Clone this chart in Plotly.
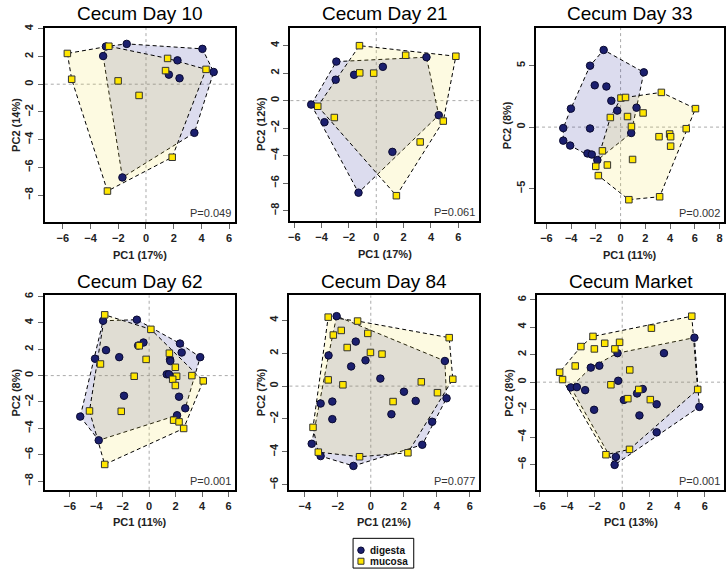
import plotly.graph_objects as go

W, H = 728, 576

# ---------------- data ----------------
titles = ["Cecum Day 10", "Cecum Day 21", "Cecum Day 33",
          "Cecum Day 62", "Cecum Day 84", "Cecum Market"]
pc1_labels = ["PC1 (17%)", "PC1 (17%)", "PC1 (11%)", "PC1 (11%)", "PC1 (21%)", "PC1 (13%)"]
pc2_labels = ["PC2 (14%)", "PC2 (12%)", "PC2 (8%)", "PC2 (8%)", "PC2 (7%)", "PC2 (8%)"]
p_values = ["P=0.049", "P=0.061", "P=0.002", "P=0.001", "P=0.077", "P=0.001"]
group_names = ["digesta", "mucosa"]

d10_dig_x = [-1.39, -2.89, -3.09, 4.07, 2.27, 4.88, 1.65, 2.42, 3.49, -1.70]
d10_dig_y = [2.91, 2.72, 2.03, 2.55, 1.72, 0.88, 0.69, 0.43, -3.51, -6.73]
d10_muc_x = [-5.67, -2.68, -5.36, -2.01, -0.50, 1.56, 1.41, 4.33, 1.89, -2.78]
d10_muc_y = [2.22, 2.74, 0.36, 0.24, -0.81, 1.86, 0.98, 1.07, -5.27, -7.71]

d21_dig_x = [-2.92, -2.97, -1.62, 0.48, 3.67, -4.76, -3.79, 4.57, 1.18, -1.30]
d21_dig_y = [2.84, 1.52, 1.88, 2.46, 3.16, -0.29, -1.57, -1.06, -3.73, -6.70]
d21_muc_x = [-1.23, 2.15, 5.82, -1.21, -0.19, -4.28, -3.07, 4.90, 3.21, 1.47]
d21_muc_y = [4.00, 3.30, 3.23, 2.02, 2.00, -0.41, -1.23, -1.49, -3.01, -6.92]

d33_dig_x = [-1.37, -2.47, 1.88, -2.09, -1.15, -0.75, -4.02, -0.27, 1.29, -4.64,
             -2.47, 0.86, -4.64, -4.08, -2.68, -2.33, -1.88]
d33_dig_y = [6.27, 4.99, 4.45, 3.40, 3.30, 2.14, 1.50, 1.34, 1.58, -0.08,
             -0.11, -0.48, -1.10, -1.50, -2.14, -2.23, -2.68]
d33_muc_x = [0.03, 0.40, 3.30, 6.06, -0.83, 0.56, 1.82, 0.88, 5.31, 3.11,
             3.97, 4.05, 4.05, -1.47, 0.97, -1.07, -2.01, -1.80, 0.67, 3.16]
d33_muc_y = [2.36, 2.41, 2.82, 1.50, 0.78, 0.86, 1.15, 0.05, -0.13, -0.78,
             -0.56, -0.78, -1.55, -1.93, -2.63, -3.08, -3.19, -3.94, -5.90, -5.66]

d62_dig_x = [-3.48, -0.93, -3.26, -0.43, -0.83, -2.26, -4.09, 2.33, 2.46, 3.86,
             1.58, 1.60, 1.33, 1.50, -1.90, 2.26, 2.73, 2.11, -5.21, -3.81]
d62_dig_y = [4.16, 4.24, 1.93, 2.51, 2.28, 1.40, 1.28, 2.43, 1.75, 1.40,
             1.23, 1.10, 0.10, 0.10, -1.53, -1.60, -2.48, -3.01, -3.11, -4.91]
d62_muc_x = [-3.36, 0.13, -0.75, 1.53, -0.23, -3.68, 1.98, -1.13, 2.08, 1.78,
             3.23, 4.09, 1.98, -4.51, -2.11, 1.85, 2.26, 2.61, -3.36]
d62_muc_y = [4.61, 3.51, 2.26, 1.70, 1.23, 0.88, 0.63, -0.05, -0.05, -0.28,
             0.00, -0.40, -0.75, -2.68, -2.71, -3.38, -3.51, -4.01, -6.74]

d84_dig_x = [-2.07, -0.91, -2.56, -1.19, -0.32, 0.58, 2.01, 2.72, 4.59, 4.49,
             -3.04, -2.33, -2.33, 1.25, 3.72, 3.12, -3.58, -3.04, -1.05]
d84_dig_y = [4.26, 2.71, 1.87, 1.20, 1.57, 0.46, -0.34, -0.90, -0.74, 1.53,
             -1.06, -0.94, -2.01, -1.71, -2.17, -3.57, -3.51, -4.26, -4.86]
d84_muc_x = [-2.58, -0.80, -2.27, -1.79, -0.18, -1.43, -0.02, 0.68, 4.75, -2.58,
             -1.69, 4.97, 3.06, 4.04, 1.35, -3.50, -3.18, -0.68, 2.25]
d84_muc_y = [4.20, 3.96, 3.11, 3.39, 3.21, 2.35, 2.05, 1.95, 2.95, 0.38,
             0.08, 0.42, 0.26, -0.40, -0.94, -2.51, -4.02, -4.30, -4.06]

mkt_dig_x = [5.24, 3.03, -0.34, -2.28, -1.66, -0.29, -3.73, -3.29, -2.69, 1.08,
             1.49, 0.12, -2.04, 2.50, 1.25, 5.60, 2.50, -0.46, -0.55]
mkt_dig_y = [3.24, 2.11, 2.11, 1.06, 1.20, 0.10, -0.38, -0.36, -0.58, -0.82,
             -0.50, -1.29, -2.01, -1.61, -2.42, -1.80, -3.65, -5.44, -6.02]
mkt_muc_x = [5.05, 2.12, -2.12, -1.27, -2.02, -3.00, -0.19, -0.53, -3.41, 0.55,
             -4.54, -4.33, -0.82, 1.20, 0.41, 2.04, 5.48, -1.18, 0.53]
mkt_muc_y = [4.80, 3.93, 3.33, 2.83, 2.42, 2.59, 2.90, 2.42, 1.18, 0.89,
             0.72, 0.19, -0.19, -0.53, -1.20, -1.27, -0.53, -5.28, -4.89]

panels_data = [
    (d10_dig_x, d10_dig_y, d10_muc_x, d10_muc_y),
    (d21_dig_x, d21_dig_y, d21_muc_x, d21_muc_y),
    (d33_dig_x, d33_dig_y, d33_muc_x, d33_muc_y),
    (d62_dig_x, d62_dig_y, d62_muc_x, d62_muc_y),
    (d84_dig_x, d84_dig_y, d84_muc_x, d84_muc_y),
    (mkt_dig_x, mkt_dig_y, mkt_muc_x, mkt_muc_y),
]

x_ticks = [[-6, -4, -2, 0, 2, 4, 6], [-6, -4, -2, 0, 2, 4, 6], [-6, -4, -2, 0, 2, 4, 6, 8],
           [-6, -4, -2, 0, 2, 4, 6], [-4, -2, 0, 2, 4, 6], [-6, -4, -2, 0, 2, 4, 6]]
y_ticks = [[-8, -6, -4, -2, 0, 2, 4], [-8, -6, -4, -2, 0, 2, 4], [-5, 0, 5],
           [-8, -6, -4, -2, 0, 2, 4, 6], [-6, -4, -2, 0, 2, 4], [-6, -4, -2, 0, 2, 4, 6]]

# ---------------- layout geometry (pixels) ----------------
boxes = [(41, 232, 23, 219), (288, 478, 23, 218), (535, 724, 23, 219),
         (41, 232, 293, 489), (287, 478, 293, 489), (536, 724, 293, 489)]
x_ranges = [(-7.3, 6.4), (-6.28, 7.54), (-6.84, 8.37), (-7.89, 6.47), (-4.93, 6.58), (-6.18, 7.39)]
y_ranges = [(-9.95, 4.07), (-8.77, 5.3), (-7.72, 8.07), (-8.66, 6.08), (-6.31, 5.52), (-7.83, 6.31)]

FONT = "Arial, Liberation Sans, sans-serif"
DIG_FILL = "rgba(40,40,150,0.16)"
MUC_FILL = "rgba(245,225,80,0.17)"
DIG_COLOR = "#1b1f6e"
MUC_COLOR = "#ffe600"


def px(x):
    return x / W


def py(y):
    return 1 - y / H


def hull(xs, ys):
    pts = sorted(set(zip(xs, ys)))

    def cross(o, a, b):
        return (a[0] - o[0]) * (b[1] - o[1]) - (a[1] - o[1]) * (b[0] - o[0])

    lower = []
    for p in pts:
        while len(lower) >= 2 and cross(lower[-2], lower[-1], p) <= 0:
            lower.pop()
        lower.append(p)
    upper = []
    for p in reversed(pts):
        while len(upper) >= 2 and cross(upper[-2], upper[-1], p) <= 0:
            upper.pop()
        upper.append(p)
    h = lower[:-1] + upper[:-1]
    h.append(h[0])
    return [p[0] for p in h], [p[1] for p in h]


fig = go.Figure()
annotations = []
shapes = []

for i in range(6):
    n = "" if i == 0 else str(i + 1)
    xa, ya = "x" + n, "y" + n
    dx, dy, mx, my = panels_data[i]
    hx, hy = hull(dx, dy)
    fig.add_trace(go.Scatter(x=hx, y=hy, mode="lines", fill="toself", fillcolor=DIG_FILL,
                             line=dict(color="black", width=1, dash="4px,3px"),
                             xaxis=xa, yaxis=ya, showlegend=False, hoverinfo="skip"))
    hx, hy = hull(mx, my)
    fig.add_trace(go.Scatter(x=hx, y=hy, mode="lines", fill="toself", fillcolor=MUC_FILL,
                             line=dict(color="black", width=1, dash="4px,3px"),
                             xaxis=xa, yaxis=ya, showlegend=False, hoverinfo="skip"))
    fig.add_trace(go.Scatter(x=dx, y=dy, mode="markers", name=group_names[0],
                             marker=dict(symbol="circle", size=7.5, color=DIG_COLOR,
                                         line=dict(color="#0a0a30", width=1)),
                             xaxis=xa, yaxis=ya, showlegend=False))
    fig.add_trace(go.Scatter(x=mx, y=my, mode="markers", name=group_names[1],
                             marker=dict(symbol="square", size=6.5, color=MUC_COLOR,
                                         line=dict(color="#333333", width=1)),
                             xaxis=xa, yaxis=ya, showlegend=False))

    x0, x1, y0, y1 = boxes[i]
    common = dict(showline=True, linecolor="black", linewidth=2, mirror=True,
                  ticks="outside", ticklen=5, tickwidth=1, tickcolor="#666",
                  showgrid=False, zeroline=False,
                  tickfont=dict(family=FONT, size=11, color="#222", weight="bold"))
    fig.layout["xaxis" + n] = dict(domain=[px(x0), px(x1)], range=list(x_ranges[i]),
                                   tickvals=x_ticks[i], anchor=ya, **common)
    fig.layout["yaxis" + n] = dict(domain=[py(y1), py(y0)], range=list(y_ranges[i]),
                                   tickvals=y_ticks[i], anchor=xa, tickangle=-90, **common)

    # zero reference lines
    shapes.append(dict(type="line", xref=xa, yref=ya + " domain", x0=0, x1=0, y0=0, y1=1,
                       line=dict(color="#aaaaaa", width=1, dash="dot"), layer="below"))
    shapes.append(dict(type="line", xref=xa + " domain", yref=ya, x0=0, x1=1, y0=0, y1=0,
                       line=dict(color="#aaaaaa", width=1, dash="dot"), layer="below"))

    cx = (x0 + x1) / 2
    cy = (y0 + y1) / 2
    annotations.append(dict(text=titles[i], x=px(cx), y=py(y0 - 14), xref="paper", yref="paper",
                            xanchor="center", yanchor="middle", showarrow=False,
                            font=dict(family=FONT, size=19, color="black")))
    annotations.append(dict(text=pc1_labels[i], x=px(cx), y=py(y1 + 33), xref="paper", yref="paper",
                            xanchor="center", yanchor="middle", showarrow=False,
                            font=dict(family=FONT, size=11, color="#222", weight="bold")))
    annotations.append(dict(text=pc2_labels[i], x=px(x0 - 29), y=py(cy), xref="paper", yref="paper",
                            xanchor="center", yanchor="middle", showarrow=False, textangle=-90,
                            font=dict(family=FONT, size=11, color="#222", weight="bold")))
    annotations.append(dict(text=p_values[i], x=px(x1 - 2), y=py(y1 - 9), xref="paper", yref="paper",
                            xanchor="right", yanchor="middle", showarrow=False,
                            font=dict(family=FONT, size=11, color="#333")))

# ---------------- legend ----------------
LX0, LX1, LY0, LY1 = 351, 412, 538, 568
shapes.append(dict(type="rect", xref="paper", yref="paper", x0=px(LX0), x1=px(LX1),
                   y0=py(LY1), y1=py(LY0), line=dict(color="black", width=1)))
fig.layout["xaxis7"] = dict(domain=[px(LX0), px(LX1)], range=[0, 1], visible=False, anchor="y7")
fig.layout["yaxis7"] = dict(domain=[py(LY1), py(LY0)], range=[0, 1], visible=False, anchor="x7")
fig.add_trace(go.Scatter(x=[0.13], y=[0.6], mode="markers", xaxis="x7", yaxis="y7",
                         marker=dict(symbol="circle", size=6.5, color=DIG_COLOR,
                                     line=dict(color="#0a0a30", width=1)),
                         showlegend=False, hoverinfo="skip"))
fig.add_trace(go.Scatter(x=[0.13], y=[0.23], mode="markers", xaxis="x7", yaxis="y7",
                         marker=dict(symbol="square", size=6, color=MUC_COLOR,
                                     line=dict(color="#333333", width=1)),
                         showlegend=False, hoverinfo="skip"))
for name, yy in zip(group_names, [550, 561]):
    annotations.append(dict(text=name, x=px(366), y=py(yy), xref="paper", yref="paper",
                            xanchor="left", yanchor="middle", showarrow=False,
                            font=dict(family=FONT, size=10, color="#111", weight="bold")))

fig.update_layout(width=W, height=H, margin=dict(l=0, r=0, t=0, b=0),
                  paper_bgcolor="white", plot_bgcolor="white",
                  annotations=annotations, shapes=shapes, showlegend=False)

fig.write_html("out.html", config={"displayModeBar": False},
               post_script="document.body.style.margin='0';document.body.style.overflow='hidden';")
